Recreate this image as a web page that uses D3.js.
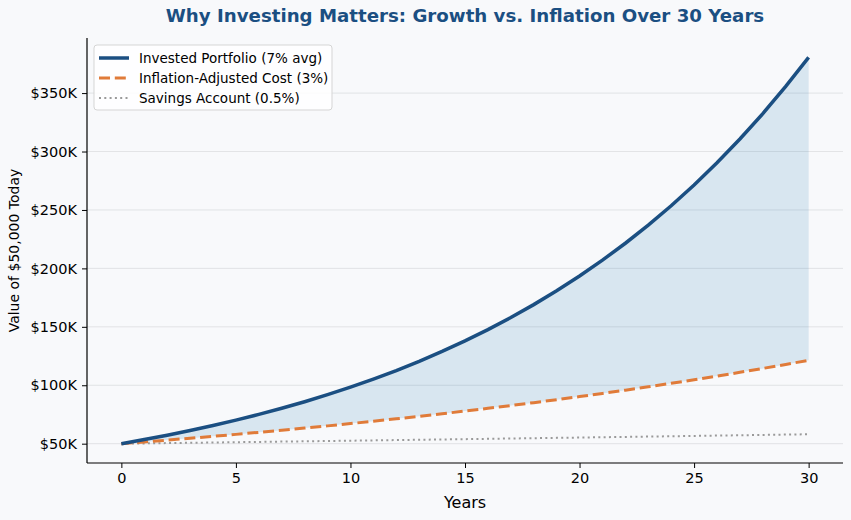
<!DOCTYPE html>
<html>
<head>
<meta charset="utf-8">
<script src="https://cdn.jsdelivr.net/npm/d3@7"></script>
<style>
  html, body { margin: 0; padding: 0; background: #f8f9fb; }
  svg { display: block; font-family: "DejaVu Sans", sans-serif; }
</style>
</head>
<body>
<div id="chart"></div>
<script>
const years = d3.range(0, 31);
const invested = [50000, 53500, 57245, 61252, 65540, 70128, 75037, 80289, 85909, 91923,
  98358, 105243, 112610, 120492, 128927, 137952, 147608, 157941, 168997, 180827,
  193484, 207028, 221520, 237026, 253618, 271372, 290368, 310693, 332442, 355713, 380613];
const inflation = [50000, 51500, 53045, 54636, 56275, 57964, 59703, 61494, 63339, 65239,
  67196, 69212, 71288, 73427, 75629, 77898, 80235, 82642, 85122, 87675,
  90306, 93015, 95805, 98679, 101640, 104689, 107830, 111064, 114396, 117828, 121363];
const savings = [50000, 50250, 50501, 50754, 51008, 51263, 51519, 51777, 52035, 52296,
  52557, 52820, 53084, 53350, 53616, 53885, 54154, 54425, 54697, 54970,
  55245, 55521, 55799, 56078, 56358, 56640, 56923, 57208, 57494, 57781, 58070];
const xTicks = [0, 5, 10, 15, 20, 25, 30];
const yTicks = [50000, 100000, 150000, 200000, 250000, 300000, 350000];
const seriesNames = ["Invested Portfolio (7% avg)", "Inflation-Adjusted Cost (3%)", "Savings Account (0.5%)"];

const width = 851, height = 520;
const margin = { top: 38, right: 8, bottom: 57, left: 87 };

const svg = d3.select("#chart").append("svg")
  .attr("width", width).attr("height", height);

svg.append("rect").attr("width", width).attr("height", height).attr("fill", "#f8f9fb");

const lo = 50000, hi = d3.max(invested), pad = (hi - lo) * 0.05;
const x = d3.scaleLinear().domain([-1.5, 31.5]).range([margin.left, width - margin.right]);
const y = d3.scaleLinear().domain([lo - pad, hi + pad]).range([height - margin.bottom, margin.top]);

// grid
svg.append("g").selectAll("line").data(yTicks).enter().append("line")
  .attr("x1", margin.left).attr("x2", width - margin.right)
  .attr("y1", d => y(d)).attr("y2", d => y(d))
  .attr("stroke", "#dcdde0").attr("stroke-width", 0.8);

// fill between
const area = d3.area()
  .x((d, i) => x(years[i]))
  .y0((d, i) => y(inflation[i]))
  .y1(d => y(d));
svg.append("path").datum(invested).attr("d", area)
  .attr("fill", "#1f77b4").attr("fill-opacity", 0.15);

const line = d3.line().x((d, i) => x(years[i])).y(d => y(d));

svg.append("path").datum(savings).attr("d", line)
  .attr("fill", "none").attr("stroke", "#9a9a9a").attr("stroke-width", 2)
  .attr("stroke-dasharray", "2,3.3");
svg.append("path").datum(inflation).attr("d", line)
  .attr("fill", "none").attr("stroke", "#e07b39").attr("stroke-width", 3)
  .attr("stroke-dasharray", "11,4.8");
svg.append("path").datum(invested).attr("d", line)
  .attr("fill", "none").attr("stroke", "#1b4f82").attr("stroke-width", 3.5);

// axes
const xAxis = svg.append("g")
  .attr("transform", `translate(0,${height - margin.bottom})`)
  .call(d3.axisBottom(x).tickValues(xTicks).tickSize(5).tickPadding(5).tickSizeOuter(0));
const yAxis = svg.append("g")
  .attr("transform", `translate(${margin.left},0)`)
  .call(d3.axisLeft(y).tickValues(yTicks).tickSize(5).tickPadding(5).tickSizeOuter(0)
    .tickFormat(d => "$" + d / 1000 + "K"));
[xAxis, yAxis].forEach(a => {
  a.selectAll("text").attr("font-size", "14.5px").attr("fill", "#000").attr("font-family", "DejaVu Sans");
  a.selectAll("line").attr("stroke", "#000").attr("stroke-width", 1);
  a.select(".domain").attr("stroke", "#000").attr("stroke-width", 1.2);
});
// extend spines to plot edges
xAxis.select(".domain").attr("d", `M${margin.left},0H${width - margin.right}`);
yAxis.select(".domain").attr("d", `M0,${margin.top}V${height - margin.bottom}`);

// labels
svg.append("text").attr("x", (margin.left + width - margin.right) / 2).attr("y", 508)
  .attr("text-anchor", "middle").attr("font-size", "16px").text("Years");
svg.append("text")
  .attr("transform", `translate(19,${(margin.top + height - margin.bottom) / 2}) rotate(-90)`)
  .attr("text-anchor", "middle").attr("font-size", "14px").text("Value of $50,000 Today");
svg.append("text").attr("x", (margin.left + width - margin.right) / 2).attr("y", 22)
  .attr("text-anchor", "middle").attr("font-size", "18.2px").attr("font-weight", "bold")
  .attr("fill", "#1b4f82").text("Why Investing Matters: Growth vs. Inflation Over 30 Years");

// legend
const lg = svg.append("g").attr("transform", "translate(94,45)");
lg.append("rect").attr("width", 238).attr("height", 65).attr("rx", 3)
  .attr("fill", "#fff").attr("fill-opacity", 0.85).attr("stroke", "#d5d5d5");
const styles = [
  { c: "#1b4f82", w: 3.5, d: null },
  { c: "#e07b39", w: 3, d: "11,4.8" },
  { c: "#9a9a9a", w: 2, d: "2,3.3" }
];
seriesNames.forEach((n, i) => {
  const yy = 13 + i * 20;
  lg.append("line").attr("x1", 5).attr("x2", 35).attr("y1", yy).attr("y2", yy)
    .attr("stroke", styles[i].c).attr("stroke-width", styles[i].w)
    .attr("stroke-dasharray", styles[i].d);
  lg.append("text").attr("x", 45).attr("y", yy + 5).attr("font-size", "13.5px").text(n);
});
</script>
</body>
</html>
